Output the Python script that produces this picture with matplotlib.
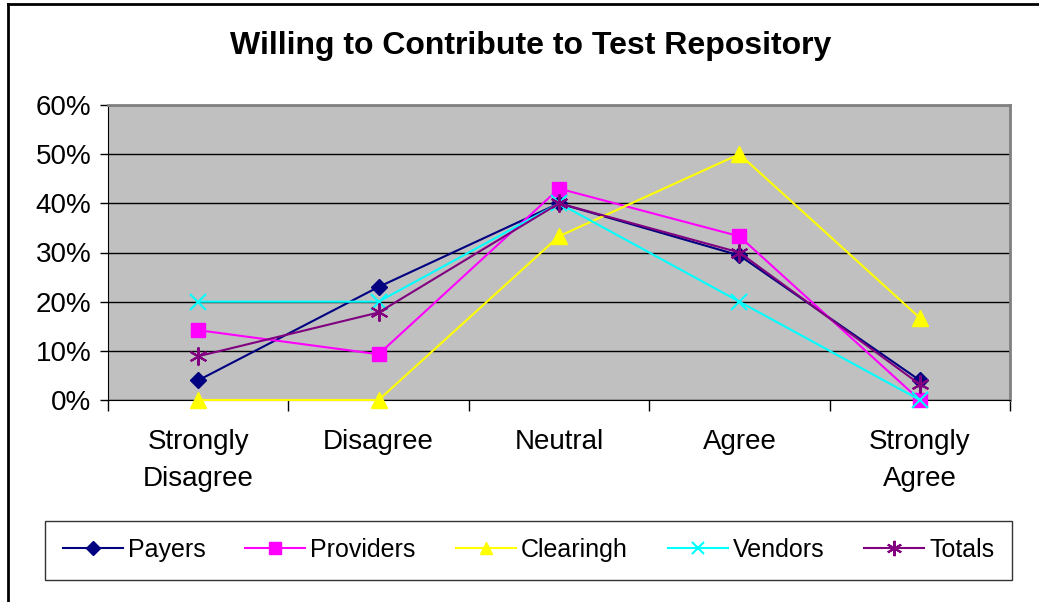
import matplotlib
matplotlib.use("Agg")
import matplotlib.pyplot as plt
import numpy as np

categories = ["Strongly\nDisagree", "Disagree", "Neutral", "Agree", "Strongly\nAgree"]
payers = [4, 23, 40, 29.4, 4]
providers = [14.2, 9.3, 43, 33.3, 0]
clearingh = [0, 0, 33.3, 50, 16.7]
vendors = [20, 20, 40, 20, 0]
totals = [8.9, 17.8, 40, 30, 3.2]
yticks = [0, 10, 20, 30, 40, 50, 60]
title = "Willing to Contribute to Test Repository"

plt.rcParams['font.family'] = ['Liberation Sans', 'DejaVu Sans']

W, H = 1039, 602
fig = plt.figure(figsize=(W / 100, H / 100), dpi=100)
fig.patch.set_facecolor("white")

# outer chart frame (top and left visible)
fig.add_artist(plt.Line2D([8 / W, 8 / W], [0, 1 - 4 / H], color="black", lw=2, transform=fig.transFigure))
fig.add_artist(plt.Line2D([8 / W, 1], [1 - 4 / H, 1 - 4 / H], color="black", lw=2, transform=fig.transFigure))

ax = fig.add_axes([108 / W, 1 - 400 / H, (1010 - 108) / W, (400 - 105) / H])
ax.set_facecolor("#C0C0C0")
x = np.arange(len(categories))

series = [
    ("Payers", payers, "#000080", "D", 8),
    ("Providers", providers, "#FF00FF", "s", 10),
    ("Clearingh", clearingh, "#FFFF00", "^", 11),
    ("Vendors", vendors, "#00FFFF", "x", 11),
    ("Totals", totals, "#800080", (6, 2, 0), 13),
]
for name, vals, col, mk, ms in series:
    ax.plot(x, vals, color=col, marker=mk, markersize=ms, lw=1.5,
            markerfacecolor=col, markeredgecolor=col,
            markeredgewidth=1.5 if (mk == "x" or isinstance(mk, tuple)) else 1,
            label=name, clip_on=False, zorder=3)

ax.set_xlim(-0.5, len(categories) - 0.5)
ax.set_ylim(0, 60)
ax.set_yticks(yticks)
ax.set_yticklabels([f"{v}%" for v in yticks], fontsize=20)
ax.yaxis.grid(True, color="black", lw=1)
ax.set_axisbelow(True)

ax.set_xticks(x)
ax.set_xticklabels(categories, fontsize=20, linespacing=1.55)
ax.set_xticks(np.arange(-0.5, len(categories)), minor=True)
ax.tick_params(axis="x", which="major", length=0, pad=21)
ax.tick_params(axis="x", which="minor", length=8, width=1, color="black")
ax.tick_params(axis="y", length=6, width=1, color="black", pad=6)

for s in ["top", "right"]:
    ax.spines[s].set_color("#808080")
    ax.spines[s].set_linewidth(2)
ax.spines["left"].set_color("black")
ax.spines["bottom"].set_color("black")

fig.text(531 / W, 1 - 46 / H, title, ha="center", va="center", fontsize=23, fontweight="bold")

leg = fig.legend(loc="center", bbox_to_anchor=(45 / W, 1 - 578 / H, (1012 - 45) / W, 56 / H),
                 mode="expand", ncol=5, fontsize=18, frameon=True, fancybox=False,
                 edgecolor="black", borderaxespad=0, borderpad=0.7, handlelength=2.4,
                 handletextpad=0.2, columnspacing=1.0, markerscale=0.85)
leg.get_frame().set_linewidth(1)

fig.savefig("out.png", dpi=100)
